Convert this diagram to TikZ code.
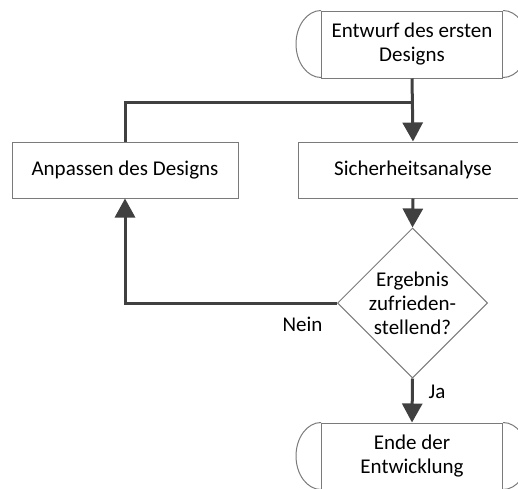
\documentclass[tikz,border=0pt]{standalone}
\usepackage{fontspec}
\setmainfont{Carlito}
\usetikzlibrary{arrows.meta,shapes.geometric}
\newcommand\flowfont{\fontsize{21}{24}\selectfont}
\definecolor{boxgray}{HTML}{7A7A7A}
\definecolor{flowline}{HTML}{404040}
\begin{document}
\begin{tikzpicture}[x=1pt,y=-1pt,
  shapeline/.style={draw=boxgray, line width=1pt},
  procbox/.style={shapeline, rectangle, inner sep=0pt, minimum height=56pt,
    align=center, font=\flowfont},
  termbox/.style={shapeline, rectangle, inner sep=0pt, minimum width=181pt,
    minimum height=67pt, align=center, font=\flowfont},
  decision/.style={shapeline, diamond, inner sep=0pt, minimum width=150pt,
    minimum height=150pt},
  label/.style={inner sep=0pt, font=\flowfont},
  flow/.style={draw=flowline, line width=3pt},
  arrowflow/.style={flow, -{Triangle[length=19pt,width=20pt]}},
]
\useasboundingbox (0,0) rectangle (518,488);
\clip (0,0) rectangle (518,488);

% terminals: rectangle with half-ellipse caps
\node[termbox] (start) at (412,44.5) {Entwurf des ersten\\Designs};
\draw[shapeline] (start.north east) arc[start angle=90, end angle=-90, x radius=25pt, y radius=33.5pt];
\draw[shapeline] (start.north west) arc[start angle=90, end angle=270, x radius=25pt, y radius=33.5pt];

\node[termbox] (stop) at (412,456.5) {Ende der\\Entwicklung};
\draw[shapeline] (stop.north east) arc[start angle=90, end angle=-90, x radius=25pt, y radius=33.5pt];
\draw[shapeline] (stop.north west) arc[start angle=90, end angle=270, x radius=25pt, y radius=33.5pt];

% process steps
\node[procbox, minimum width=230pt] (check) at (413,170) {Sicherheitsanalyse};
\node[procbox, minimum width=226pt] (adapt) at (125,170) {Anpassen des Designs};

% decision
\node[decision] (dec) at (412.5,303) {};
\node[label, align=center] (dectext) at (dec.center) {Ergebnis\\zufrieden-\\stellend?};

% connectors
\coordinate (join) at (start.south |- 0,102);
\draw[arrowflow] (start.south) -- (check.north);
\draw[flow] (adapt.north) |- (join);
\draw[arrowflow] (check.south) -- (dec.north);
\draw[arrowflow] (dec.west) -| (adapt.south);
\draw[arrowflow] (dec.south) -- (stop.north);

% branch labels
\node[label] (nein) at (302.5,324) {Nein};
\node[label] (ja) at (437,392) {Ja};
\end{tikzpicture}
\end{document}
